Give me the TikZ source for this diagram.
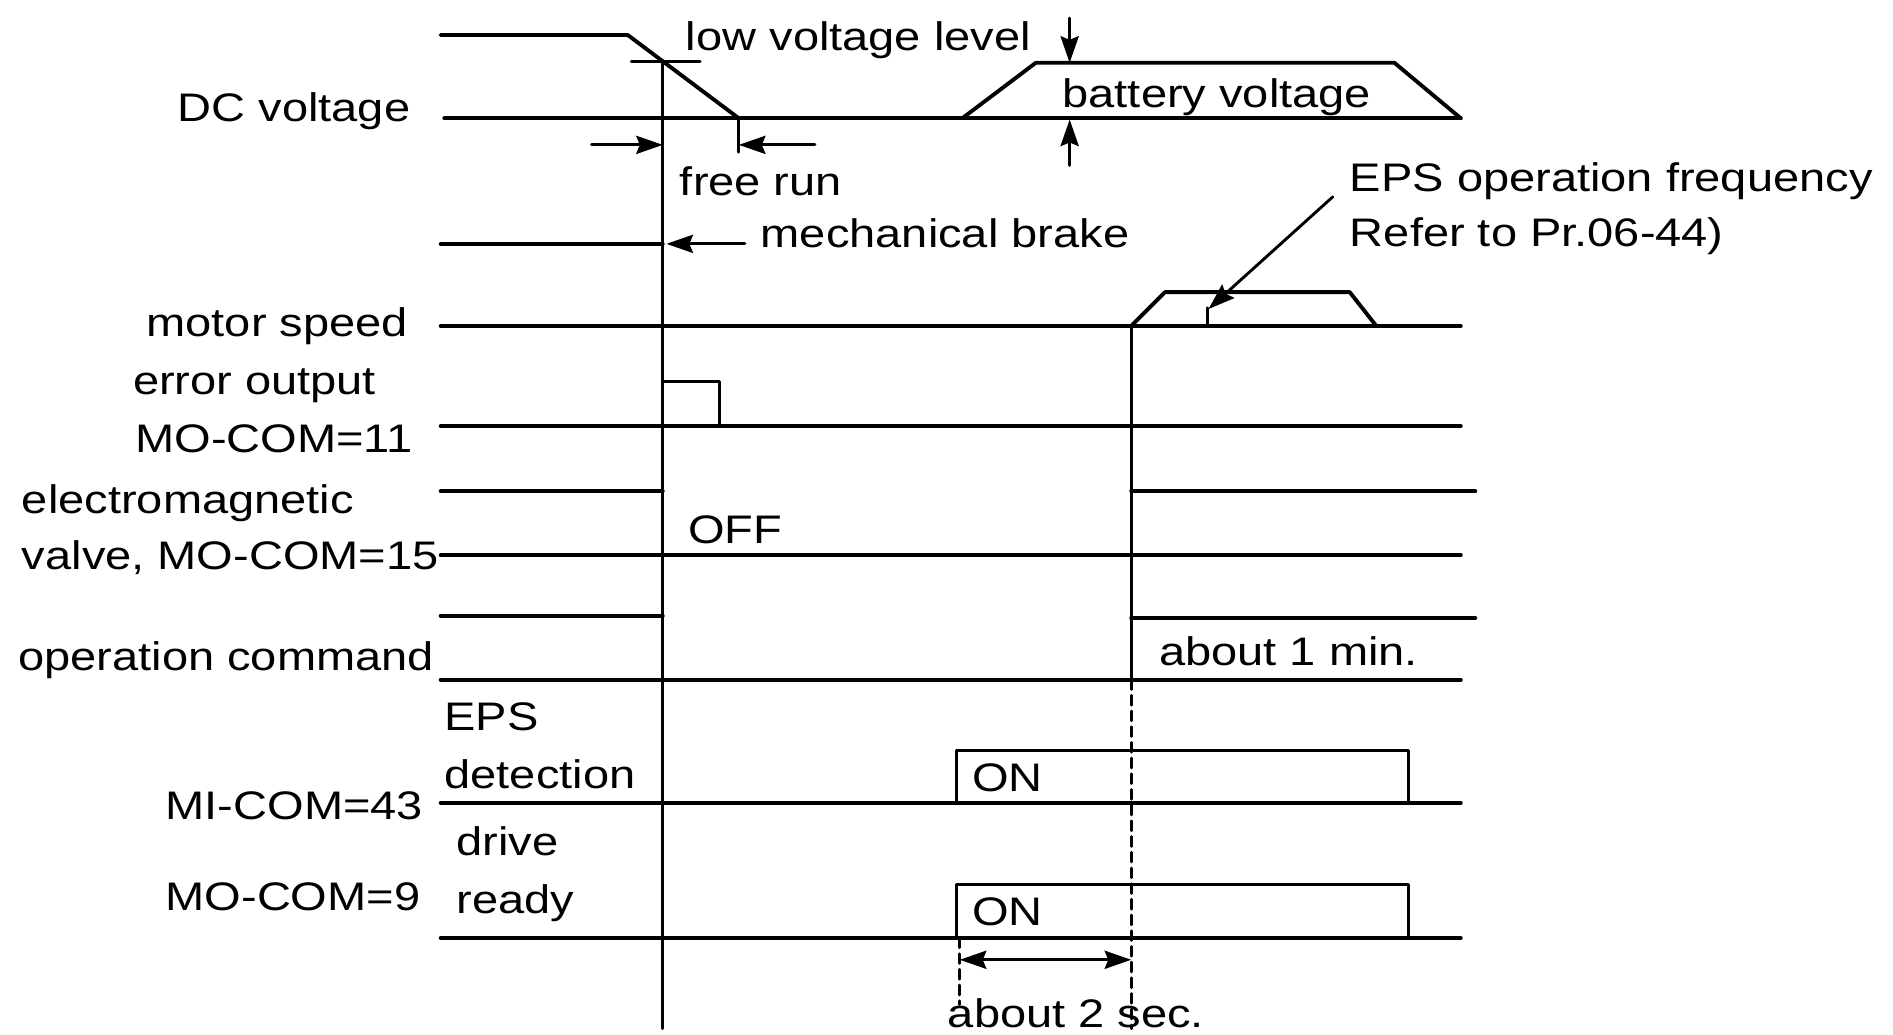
\documentclass[tikz,border=0pt]{standalone}
\usepackage{fontspec}
\setmainfont[FakeStretch=1.18]{Liberation Sans}
\usetikzlibrary{arrows.meta}

\tikzset{
  sig/.style={line width=3.2pt},
  guide/.style={line width=2.4pt},
  lbl/.style={inner sep=0pt, font=\fontsize{33}{40}\selectfont},
  tip/.tip={Stealth[length=22pt,width=15pt,inset=3pt]},
  dimarrow/.style={line width=2.4pt, -tip},
}

\begin{document}
\begin{tikzpicture}[x=1pt, y=-1pt, line cap=round, line join=round]

	\useasboundingbox (0,0) rectangle (1568,857);

	% Time instants and levels
	\coordinate (lowv) at (549,51);
	\coordinate (fend) at (612,98);
	\coordinate (lossbot) at (549,852);
	\coordinate (epson) at (937,270);
	\coordinate (epsbot) at (937,852);

	% DC voltage
	\draw[sig] (365,29) -- (520,29) -- (fend);
	\draw[sig] (368,98) -- (1210,98);
	\draw[sig] (797,98) -- (858,52) -- (1155,52) -- (1210,98);
	\draw[guide] (523,51) -- (580,51);
	\draw[guide] (lowv) -- (lossbot);
	\draw[guide] (fend) -- (612,126);

	% free run arrows
	\coordinate (fr1) at (490,120);
	\coordinate (fr2) at (549,120);
	\coordinate (fr3) at (675,120);
	\coordinate (fr4) at (612,120);
	\draw[dimarrow] (fr1) -- (fr2);
	\draw[dimarrow] (fr3) -- (fr4);

	% battery voltage arrows
	\coordinate (bv1) at (886,15);
	\coordinate (bv2) at (886,52);
	\coordinate (bv3) at (886,137);
	\coordinate (bv4) at (886,99);
	\draw[dimarrow] (bv1) -- (bv2);
	\draw[dimarrow] (bv3) -- (bv4);

	% mechanical brake
	\draw[sig] (365,202) -- (549,202);
	\coordinate (mb1) at (617,202);
	\coordinate (mb2) at (552,202);
	\draw[dimarrow] (mb1) -- (mb2);

	% motor speed
	\draw[sig] (365,270) -- (1210,270);
	\draw[sig] (epson) -- (965,242) -- (1118,242) -- (1140,270);
	\coordinate (ef1) at (1104,163);
	\coordinate (ef2) at (1001,256);
	\draw[dimarrow] (ef1) -- (ef2);
	\draw[guide] (1000,255) -- (1000,270);

	% error output
	\draw[sig] (365,353) -- (1210,353);
	\draw[guide] (549,353) |- (596,316) -- (596,353);

	% electromagnetic valve
	\draw[sig] (365,407) -- (549,407);
	\draw[sig] (365,460) -- (1210,460);
	\draw[sig] (937,407) -- (1222,407);

	% operation command
	\draw[sig] (365,510) -- (549,510);
	\draw[sig] (365,563) -- (1210,563);
	\draw[sig] (937,512) -- (1222,512);
	\draw[guide] (epson) -- (937,563);
	\draw[guide, dashed, dash pattern=on 8pt off 5pt] (937,563) -- (epsbot);

	% EPS detection
	\draw[sig] (365,665) -- (1210,665);
	\draw[guide] (792,665) |- (1167,622) -- (1167,665);

	% drive ready
	\draw[sig] (365,777) -- (1210,777);
	\draw[guide] (792,777) |- (1167,733) -- (1167,777);

	% about 2 sec.
	\draw[guide, dashed, dash pattern=on 8pt off 5pt] (795,777) -- (795,832);
	\coordinate (ts1) at (795,795);
	\coordinate (ts2) at (937,795);
	\draw[dimarrow, tip-tip] (ts1) -- (ts2);

	% Labels
	\node[lbl, anchor=base west] (lowvtxt) at (568,42) {low voltage level};
	\node[lbl, anchor=base east] (dcvtxt) at (340,101) {DC voltage};
	\node[lbl, anchor=base west] (batttxt) at (880,89) {battery voltage};
	\node[lbl, anchor=base west] (fruntxt) at (563,162) {free run};
	\node[lbl, anchor=base west] (braketxt) at (630,205) {mechanical brake};
	\node[lbl, anchor=base west] (epsftxt) at (1118,159) {EPS operation frequency};
	\node[lbl, anchor=base west] (refertxt) at (1118,204) {Refer to Pr.06-44)};
	\node[lbl, anchor=base east] (mspdtxt) at (338,279) {motor speed};
	\node[lbl, anchor=base west] (errtxt) at (110,327) {error output};
	\node[lbl, anchor=base west] (mo11txt) at (112,375) {MO-COM=11};
	\node[lbl, anchor=base west] (emvtxt) at (18,425) {electromagnetic};
	\node[lbl, anchor=base west] (valvetxt) at (18,472) {valve, MO-COM=15};
	\node[lbl, anchor=base west] (offtxt) at (570,450) {OFF};
	\node[lbl, anchor=base west] (cmdtxt) at (15,555) {operation command};
	\node[lbl, anchor=base west] (mintxt) at (960,551) {about 1 min.};
	\node[lbl, anchor=base west] (epstxt) at (368,605) {EPS};
	\node[lbl, anchor=base west] (dettxt) at (368,653) {detection};
	\node[lbl, anchor=base west] (mi43txt) at (137,679) {MI-COM=43};
	\node[lbl, anchor=base west] (on1txt) at (805,656) {ON};
	\node[lbl, anchor=base west] (drivetxt) at (378,709) {drive};
	\node[lbl, anchor=base west] (readytxt) at (378,757) {ready};
	\node[lbl, anchor=base west] (mo9txt) at (137,754) {MO-COM=9};
	\node[lbl, anchor=base west] (on2txt) at (805,767) {ON};
	\node[lbl, anchor=base west] (sectxt) at (785,851) {about 2 sec.};

\end{tikzpicture}
\end{document}
